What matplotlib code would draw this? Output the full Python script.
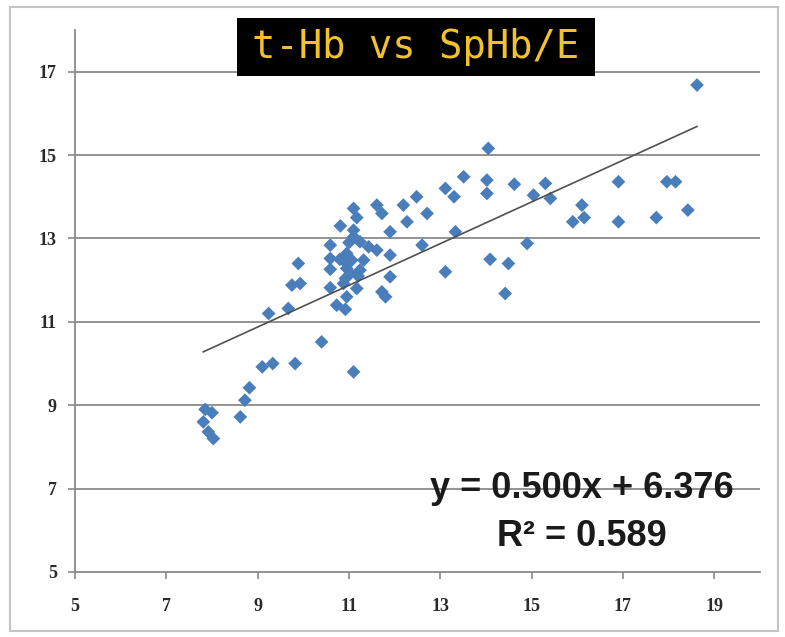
import matplotlib
matplotlib.use("Agg")
import matplotlib.pyplot as plt
from matplotlib.patches import Rectangle
import numpy as np

# Data (SpHb/E on x, t-Hb on y)
x_vals = [7.85, 8.00, 7.81, 7.92, 8.03, 8.62, 8.72, 8.82, 9.10, 9.33, 9.82, 9.24, 9.67,
          9.75, 9.93, 9.89, 10.40,
          10.59, 10.59, 10.59, 10.59, 10.81, 10.73, 10.92, 10.95, 10.95, 10.95, 10.92, 10.88,
          10.95, 11.03, 11.10, 11.17, 11.10, 11.10, 11.24, 11.32, 11.24, 11.17, 11.10, 11.43,
          11.61, 11.61, 11.72, 11.72, 11.80, 11.90, 11.90, 11.90, 12.19, 12.27, 12.48, 12.71,
          12.60, 13.11, 13.30, 13.33, 13.11, 13.51, 14.05, 14.02, 14.02, 14.62, 15.30, 15.04,
          15.41, 14.90, 14.09, 14.49, 14.42, 15.90, 16.15, 16.10, 16.90, 16.90, 17.73, 17.96,
          18.15, 18.42, 18.62, 11.06, 11.00, 11.20, 10.80]
y_vals = [8.90, 8.82, 8.60, 8.36, 8.20, 8.72, 9.12, 9.42, 9.92, 10.00, 10.00, 11.20, 11.32,
          11.88, 11.92, 12.40, 10.52,
          12.84, 12.52, 12.26, 11.82, 13.30, 11.40, 11.30, 12.64, 12.40, 12.28, 12.04, 11.92,
          11.60, 12.16, 13.72, 13.50, 13.20, 13.04, 12.92, 12.48, 12.24, 11.80, 9.80, 12.80,
          12.72, 13.80, 13.60, 11.72, 11.60, 13.16, 12.60, 12.08, 13.80, 13.40, 14.00, 13.60,
          12.84, 14.20, 14.00, 13.16, 12.20, 14.48, 15.16, 14.40, 14.08, 14.30, 14.32, 14.04,
          13.96, 12.88, 12.50, 12.40, 11.68, 13.40, 13.50, 13.80, 14.36, 13.40, 13.50, 14.36,
          14.36, 13.68, 16.68, 12.48, 12.90, 12.10, 12.50]

slope = 0.500
intercept = 6.376
r2 = 0.589
title = "t-Hb vs SpHb/E"
x_ticks = [5, 7, 9, 11, 13, 15, 17, 19]
y_ticks = [5, 7, 9, 11, 13, 15, 17]

W, H = 785, 637
fig = plt.figure(figsize=(W / 100, H / 100), dpi=100)
fig.patch.set_facecolor("white")

# outer chart border
fig.patches.append(Rectangle((10 / W, 1 - 631 / H), 768 / W, 624 / H, transform=fig.transFigure,
                             fill=False, edgecolor="#c4c4c4", linewidth=1.5))

ax = fig.add_axes([75 / W, 1 - 572 / H, (760 - 75) / W, (572 - 30) / H])
ax.set_xlim(5, 20)
ax.set_ylim(5, 18)

grid_c = "#8a8a8a"
for yt in y_ticks[1:]:
    ax.axhline(yt, color=grid_c, linewidth=1.3, zorder=1)

for s in ["top", "right"]:
    ax.spines[s].set_visible(False)
for s in ["left", "bottom"]:
    ax.spines[s].set_color(grid_c)
    ax.spines[s].set_linewidth(1.3)

ax.set_xticks(x_ticks)
ax.set_yticks(y_ticks)
ax.tick_params(axis="both", direction="out", length=5, width=1.2, color=grid_c,
               labelsize=13, pad=8)
for lab in ax.get_xticklabels() + ax.get_yticklabels():
    lab.set_fontfamily("Liberation Serif")
    lab.set_fontweight("bold")
    lab.set_color("#2a2a2a")
ax.tick_params(axis="x", pad=14)

ax.scatter(x_vals, y_vals, marker="D", s=7.0 ** 2, color="#4a7ebb", edgecolors="none", zorder=3)

xs = np.array([min(x_vals), max(x_vals)])
ax.plot(xs, slope * xs + intercept, color="#505050", linewidth=1.2, zorder=4)

ax.text(16.1, 7.0, f"y = {slope:.3f}x + {intercept:.3f}", ha="center", va="center",
        fontsize=26, fontweight="bold", color="#1a1a1a", family="Liberation Sans")
ax.text(16.1, 5.85, f"R\u00b2 = {r2:.3f}", ha="center", va="center",
        fontsize=26, fontweight="bold", color="#1a1a1a", family="Liberation Sans")

# title box
bx0, bx1, by0, by1 = 237, 595, 18, 76
fig.patches.append(Rectangle((bx0 / W, 1 - by1 / H), (bx1 - bx0) / W, (by1 - by0) / H,
                             transform=fig.transFigure, facecolor="black", edgecolor="none",
                             zorder=10))
fig.text((bx0 + bx1) / 2 / W, 1 - (by0 + by1) / 2 / H, title, ha="center", va="center",
         fontsize=28, color="#f2c12e", family="DejaVu Sans Mono", zorder=11)

fig.savefig("out.png", dpi=100)
